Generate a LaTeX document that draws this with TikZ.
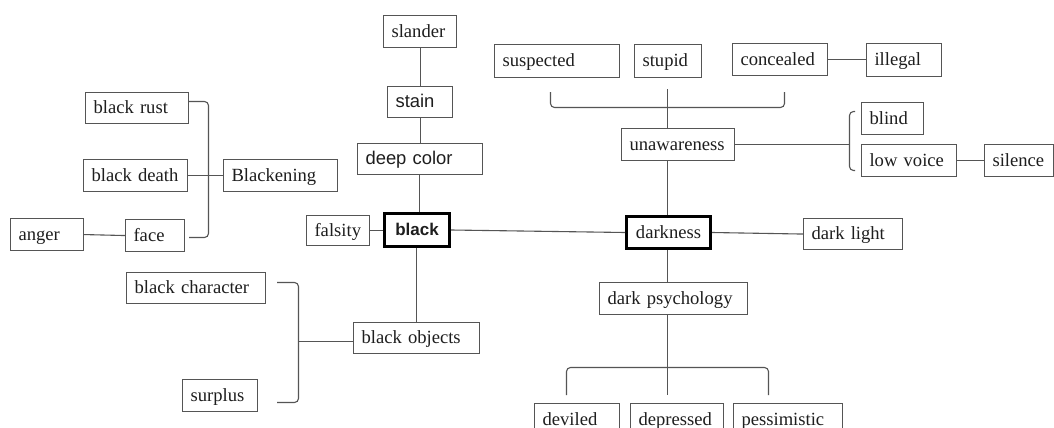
\documentclass[tikz,border=0pt]{standalone}
\usepackage{fontspec}
\setmainfont{Liberation Serif}
\newfontfamily\sansf{Liberation Sans}
\definecolor{linec}{HTML}{555555}
\definecolor{txt}{HTML}{1E1E1E}
\begin{document}
\begin{tikzpicture}[x=1pt,y=-1pt,
  bx/.style={draw=linec, line width=1.1pt, rectangle, anchor=north west,
    inner xsep=8pt, inner ysep=0pt, align=left, text=txt,
    text height=15pt, text depth=4pt,
    font=\fontsize{18.6}{20}\selectfont},
  sbx/.style={bx, font=\sansf\fontsize{18.4}{20}\selectfont},
  thk/.style={draw=black, line width=3pt},
  ln/.style={draw=linec, line width=1.1pt},
  br/.style={ln, rounded corners=4pt}]
\useasboundingbox (0,0) rectangle (1054,428);
\clip (0,0) rectangle (1054,428);
\fill[white] (0,0) rectangle (1054,428);

% left-upper column
\node[bx, text width=57pt, minimum height=32pt] (slander) at (383,15) {slander};
\node[sbx, text width=49pt, minimum height=31pt] (stain) at (387,86) {stain};
\node[sbx, text width=109pt, minimum height=31pt] (deepcolor) at (357,143) {deep color};
\node[sbx, thk, text width=49pt, align=center, minimum height=33pt,
  font=\sansf\bfseries\fontsize{17}{20}\selectfont] (black) at (383,212) {black};
\node[bx, text width=47pt, minimum height=30pt] (falsity) at (306,215) {falsity};

% blackening group
\node[bx, text width=87pt, minimum height=31pt] (blackrust) at (85,92) {black rust};
\node[bx, text width=88pt, minimum height=32pt] (blackdeath) at (83,159) {black death};
\node[bx, text width=98pt, minimum height=32pt] (blackening) at (223,159) {Blackening};
\node[bx, text width=57pt, minimum height=32pt] (anger) at (10,218) {anger};
\node[bx, text width=43pt, minimum height=32pt] (face) at (125,219) {face};

% black objects group
\node[bx, text width=123pt, minimum height=31pt] (blackchar) at (126,272) {black character};
\node[bx, text width=59pt, minimum height=32pt] (surplus) at (182,379) {surplus};
\node[bx, text width=110pt, minimum height=31pt] (blackobj) at (353,322) {black objects};

% unawareness group
\node[bx, text width=109pt, minimum height=33pt] (suspected) at (494,44) {suspected};
\node[bx, text width=51pt, minimum height=33pt] (stupid) at (634,44) {stupid};
\node[bx, text width=79pt, minimum height=32pt] (concealed) at (732,43) {concealed};
\node[bx, text width=59pt, minimum height=33pt] (illegal) at (866,43) {illegal};
\node[bx, text width=97pt, minimum height=32pt] (unaware) at (621,128) {unawareness};
\node[bx, text width=46pt, minimum height=32pt] (blind) at (861,102) {blind};
\node[bx, text width=79pt, minimum height=32pt] (lowvoice) at (861,144) {low voice};
\node[bx, text width=53pt, minimum height=32pt] (silence) at (984,144) {silence};

% darkness group
\node[bx, thk, text width=68pt, align=center, minimum height=32pt] (darkness) at (625,215) {darkness};
\node[bx, text width=83pt, minimum height=31pt] (darklight) at (803,218) {dark light};
\node[bx, text width=132pt, minimum height=32pt] (darkpsy) at (599,282) {dark psychology};
\node[bx, text width=69pt, minimum height=32pt] (deviled) at (534,403) {deviled};
\node[bx, text width=77pt, minimum height=32pt] (depressed) at (630,403) {depressed};
\node[bx, text width=93pt, minimum height=32pt] (pessim) at (733,403) {pessimistic};

% bracket coordinates
\coordinate (blt) at (188,101.5); \coordinate (blv) at (208.5,101.5);
\coordinate (blw) at (208.5,237.5); \coordinate (blb) at (189,237.5);
\coordinate (olt) at (277,282.5); \coordinate (olv) at (298.5,282.5);
\coordinate (olw) at (298.5,402.5); \coordinate (olb) at (277,402.5);
\coordinate (olm) at (298.5,341.5);
\coordinate (tbl) at (550.5,92); \coordinate (tbl2) at (550.5,107.5);
\coordinate (tbr2) at (784.5,107.5); \coordinate (tbr) at (784.5,92);
\coordinate (tstem) at (667.5,89);
\coordinate (rbt) at (855,111.5); \coordinate (rbv) at (849.5,111.5);
\coordinate (rbw) at (849.5,170.5); \coordinate (rbb) at (855,170.5);
\coordinate (bbl) at (566.5,395); \coordinate (bbl2) at (566.5,367.5);
\coordinate (bbr2) at (768.5,367.5); \coordinate (bbr) at (768.5,395);
\coordinate (bstem) at (667.5,395);
\coordinate (lstem) at (419.5,0);
\coordinate (ostem) at (416.5,0);

% connectors
\draw[ln] (slander.south) -- (stain.north);
\draw[ln] (stain.south) -- (deepcolor.north);
\draw[ln] (lstem |- deepcolor.south) -- (lstem |- black.north);
\draw[ln] (falsity.east) -- (falsity.east -| black.west);
\draw[ln] (black.east) -- (darkness.west);
\draw[ln] (darkness.east) -- (darklight.west);
\draw[ln] (ostem |- black.south) -- (ostem |- blackobj.north);

\draw[br] (blt) -- (blv) -- (blw) -- (blb);
\draw[ln] (blackdeath.east) -- (blackening.west);
\draw[ln] (anger.east) -- (face.west);

\draw[br] (olt) -- (olv) -- (olw) -- (olb);
\draw[ln] (olm) -- (olm -| blackobj.west);

\draw[ln] (tstem |- darkness.north) -- (tstem |- unaware.south);
\draw[ln] (tstem) -- (tstem |- unaware.north);
\draw[br] (tbl) -- (tbl2) -- (tbr2) -- (tbr);
\draw[ln] (concealed.east) -- (concealed.east -| illegal.west);
\draw[ln] (unaware.east) -- (unaware.east -| rbv);
\draw[br] (rbt) -- (rbv) -- (rbw) -- (rbb);
\draw[ln] (lowvoice.east) -- (silence.west);

\draw[ln] (tstem |- darkness.south) -- (tstem |- darkpsy.north);
\draw[ln] (tstem |- darkpsy.south) -- (bstem);
\draw[br] (bbl) -- (bbl2) -- (bbr2) -- (bbr);
\end{tikzpicture}
\end{document}
